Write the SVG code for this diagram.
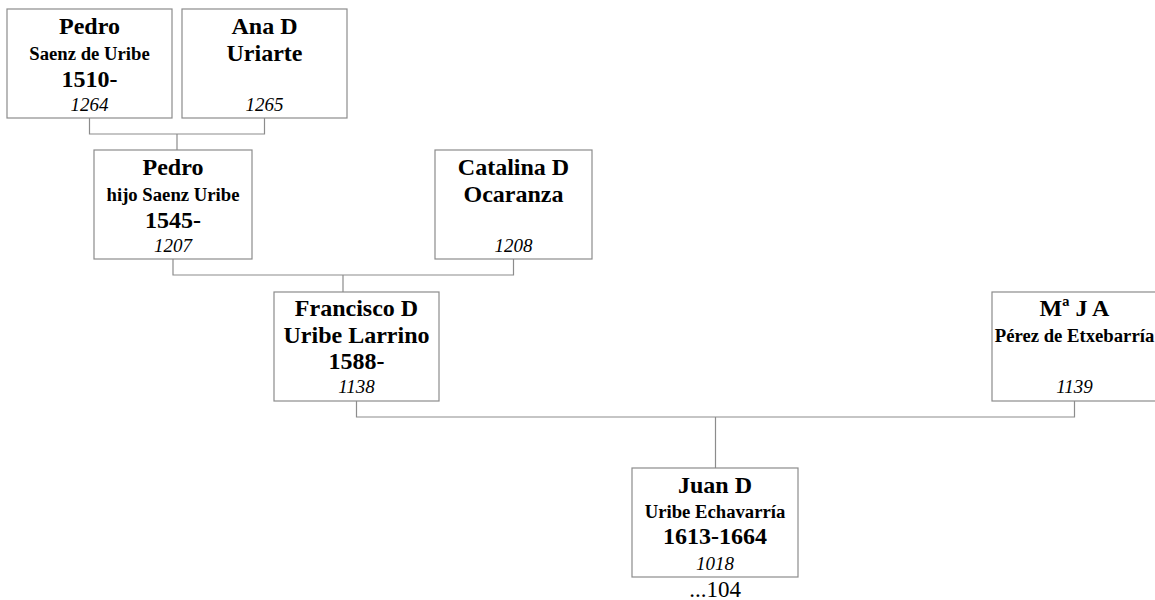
<svg xmlns="http://www.w3.org/2000/svg" width="1155" height="600" viewBox="0 0 1155 600">
<style>
.box{fill:#fff;stroke:#8c8c8c;stroke-width:1.2}
.conn{fill:none;stroke:#8c8c8c;stroke-width:1.2}
text{font-family:"Liberation Serif","Times New Roman",serif;fill:#000;text-anchor:middle}
.n{font-size:24px;font-weight:bold}
.s{font-size:18.7px;font-weight:bold}
.y{font-size:24px;font-weight:bold}
.i{font-size:19px;font-style:italic}
.r{font-size:23px}
</style>
<rect width="1155" height="600" fill="#fff"/>
<g id="connectors">
<path class="conn" d="M89.5,118 V134 H264.5 V118 M177,134 V150"/>
<path class="conn" d="M173,259 V275 H513.5 V259 M343,275 V292"/>
<path class="conn" d="M356.5,401 V417 H1074.5 V401 M715.5,417 V468"/>
</g>
<g id="n1264">
<rect class="box" x="7" y="9" width="165" height="109"/>
<text class="n" x="89.5" y="34">Pedro</text>
<text class="s" x="89.5" y="60">Saenz de Uribe</text>
<text class="y" x="89.5" y="87">1510-</text>
<text class="i" x="89.5" y="111">1264</text>
</g>
<g id="n1265">
<rect class="box" x="182" y="9" width="165" height="109"/>
<text class="n" x="264.5" y="34">Ana D</text>
<text class="n" x="264.5" y="61">Uriarte</text>
<text class="i" x="264.5" y="111">1265</text>
</g>
<g id="n1207">
<rect class="box" x="94" y="150" width="158" height="109"/>
<text class="n" x="173" y="175">Pedro</text>
<text class="s" x="173" y="201">hijo Saenz Uribe</text>
<text class="y" x="173" y="228">1545-</text>
<text class="i" x="173" y="252">1207</text>
</g>
<g id="n1208">
<rect class="box" x="435" y="150" width="157" height="109"/>
<text class="n" x="513.5" y="175">Catalina D</text>
<text class="n" x="513.5" y="202">Ocaranza</text>
<text class="i" x="513.5" y="252">1208</text>
</g>
<g id="n1138">
<rect class="box" x="274" y="292" width="165" height="109"/>
<text class="n" x="356.5" y="316">Francisco D</text>
<text class="n" x="356.5" y="343">Uribe Larrino</text>
<text class="y" x="356.5" y="369">1588-</text>
<text class="i" x="356.5" y="393">1138</text>
</g>
<g id="n1139">
<rect class="box" x="992" y="292" width="165" height="109"/>
<text class="n" x="1074.5" y="316">Mª J A</text>
<text class="s" x="1074.5" y="342">Pérez de Etxebarría</text>
<text class="i" x="1074.5" y="393">1139</text>
</g>
<g id="n1018">
<rect class="box" x="632" y="468" width="166" height="109"/>
<text class="n" x="715" y="493">Juan D</text>
<text class="s" x="715" y="518">Uribe Echavarría</text>
<text class="y" x="715" y="544">1613-1664</text>
<text class="i" x="715" y="570">1018</text>
<text class="r" x="715" y="597">...104</text>
</g>
</svg>
